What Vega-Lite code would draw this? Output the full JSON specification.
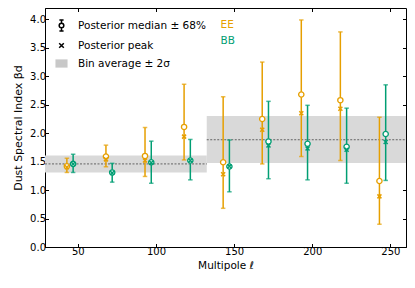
{
  "$schema": "https://vega.github.io/schema/vega-lite/v6.json",
  "width": 361,
  "height": 239,
  "autosize": "none",
  "padding": {"left": 45, "top": 8, "right": 9, "bottom": 41},
  "config": {
    "font": "DejaVu Sans",
    "view": {"stroke": "black", "strokeWidth": 1},
    "axis": {
      "grid": false,
      "domainColor": "black",
      "tickColor": "black",
      "labelColor": "black",
      "titleColor": "black",
      "labelFontSize": 10,
      "titleFontSize": 10.5,
      "titleFontWeight": "normal",
      "tickSize": -3.5,
      "labelPadding": 3
    },
    "legend": {"labelFontSize": 10, "labelFont": "DejaVu Sans", "labelColor": "black"}
  },
  "datasets": {
    "pts": [
      {"l": 43, "spec": "EE", "med": 1.42, "lo": 1.31, "hi": 1.56, "peak": 1.40},
      {"l": 68, "spec": "EE", "med": 1.59, "lo": 1.41, "hi": 1.79, "peak": 1.54},
      {"l": 93, "spec": "EE", "med": 1.60, "lo": 1.24, "hi": 2.10, "peak": 1.52},
      {"l": 118, "spec": "EE", "med": 2.11, "lo": 1.53, "hi": 2.86, "peak": 1.94},
      {"l": 143, "spec": "EE", "med": 1.49, "lo": 0.68, "hi": 2.64, "peak": 1.28},
      {"l": 168, "spec": "EE", "med": 2.25, "lo": 1.46, "hi": 3.25, "peak": 2.06},
      {"l": 193, "spec": "EE", "med": 2.68, "lo": 1.59, "hi": 3.99, "peak": 2.35},
      {"l": 218, "spec": "EE", "med": 2.58, "lo": 1.52, "hi": 3.78, "peak": 2.43},
      {"l": 243, "spec": "EE", "med": 1.16, "lo": 0.40, "hi": 2.28, "peak": 0.89},
      {"l": 47, "spec": "BB", "med": 1.46, "lo": 1.31, "hi": 1.63, "peak": 1.46},
      {"l": 72, "spec": "BB", "med": 1.31, "lo": 1.14, "hi": 1.47, "peak": 1.30},
      {"l": 97, "spec": "BB", "med": 1.49, "lo": 1.12, "hi": 1.86, "peak": 1.48},
      {"l": 122, "spec": "BB", "med": 1.52, "lo": 1.18, "hi": 1.89, "peak": 1.52},
      {"l": 147, "spec": "BB", "med": 1.415, "lo": 0.97, "hi": 1.88, "peak": 1.42},
      {"l": 172, "spec": "BB", "med": 1.855, "lo": 1.20, "hi": 2.56, "peak": 1.785},
      {"l": 197, "spec": "BB", "med": 1.815, "lo": 1.18, "hi": 2.49, "peak": 1.73},
      {"l": 222, "spec": "BB", "med": 1.76, "lo": 1.12, "hi": 2.44, "peak": 1.71},
      {"l": 247, "spec": "BB", "med": 1.985, "lo": 1.17, "hi": 2.85, "peak": 1.845}
    ],
    "bands": [
      {"l0": 29, "l1": 132.5, "lo": 1.31, "hi": 1.61, "mean": 1.46},
      {"l0": 132.5, "l1": 260, "lo": 1.475, "hi": 2.30, "mean": 1.885}
    ],
    "leg": [
      {"k": "Posterior median ± 68%"},
      {"k": "Posterior peak"},
      {"k": "Bin average ± 2σ"}
    ]
  },
  "layer": [
    {
      "data": {"name": "bands"},
      "mark": {"type": "rect", "color": "#d9d9d9", "clip": true},
      "encoding": {
        "x": {"field": "l0", "type": "quantitative", "scale": {"domain": [29, 260], "nice": false, "zero": false},
              "axis": {"orient": "bottom", "values": [50, 100, 150, 200, 250], "title": "Multipole ℓ", "titlePadding": 4}},
        "x2": {"field": "l1"},
        "y": {"field": "lo", "type": "quantitative", "scale": {"domain": [0, 4.2], "nice": false},
              "axis": {"orient": "left", "values": [0, 0.5, 1, 1.5, 2, 2.5, 3, 3.5, 4], "format": ".1f", "title": "Dust Spectral Index βd", "titlePadding": 6, "titleFontSize": 11}},
        "y2": {"field": "hi"}
      }
    },
    {
      "data": {"name": "bands"},
      "mark": {"type": "rule", "color": "#555555", "strokeDash": [2, 1.5], "strokeWidth": 0.9, "clip": true},
      "encoding": {
        "x": {"field": "l0", "type": "quantitative",
              "axis": {"orient": "top", "values": [50, 100, 150, 200, 250], "labels": false, "title": null, "domain": false}},
        "x2": {"field": "l1"},
        "y": {"field": "mean", "type": "quantitative",
              "axis": {"orient": "right", "values": [0, 0.5, 1, 1.5, 2, 2.5, 3, 3.5, 4], "labels": false, "title": null, "domain": false}}
      }
    },
    {
      "data": {"name": "pts"},
      "mark": {"type": "rule", "strokeWidth": 1.5},
      "encoding": {
        "x": {"field": "l", "type": "quantitative", "axis": null},
        "y": {"field": "lo", "type": "quantitative", "axis": null},
        "y2": {"field": "hi"},
        "color": {"field": "spec", "type": "nominal",
                  "scale": {"domain": ["EE", "BB"], "range": ["#E69F00", "#009E73"]},
                  "legend": {"orient": "none", "legendX": 165, "legendY": 12, "title": null,
                             "symbolSize": 0, "symbolOpacity": 0, "symbolStrokeWidth": 0, "labelOffset": 0, "rowPadding": 5, "padding": 0,
                             "labelFontSize": 10.5,
                             "encode": {"labels": {"update": {"fill": {"scale": "color", "field": "value"}}}}}}
      }
    },
    {
      "data": {"name": "pts"},
      "mark": {"type": "tick", "orient": "horizontal", "size": 4.5, "thickness": 1.5},
      "encoding": {
        "x": {"field": "l", "type": "quantitative", "axis": null},
        "y": {"field": "lo", "type": "quantitative", "axis": null},
        "color": {"field": "spec", "type": "nominal", "legend": null}
      }
    },
    {
      "data": {"name": "pts"},
      "mark": {"type": "tick", "orient": "horizontal", "size": 4.5, "thickness": 1.5},
      "encoding": {
        "x": {"field": "l", "type": "quantitative", "axis": null},
        "y": {"field": "hi", "type": "quantitative", "axis": null},
        "color": {"field": "spec", "type": "nominal", "legend": null}
      }
    },
    {
      "data": {"name": "pts"},
      "mark": {"type": "point", "shape": "circle", "filled": false, "fill": "white", "fillOpacity": 1, "opacity": 1, "size": 28, "strokeWidth": 1.3},
      "encoding": {
        "x": {"field": "l", "type": "quantitative", "axis": null},
        "y": {"field": "med", "type": "quantitative", "axis": null},
        "color": {"field": "spec", "type": "nominal", "legend": null}
      }
    },
    {
      "data": {"name": "pts"},
      "mark": {"type": "point", "shape": "M-1,-1L1,1M-1,1L1,-1", "filled": false, "opacity": 1, "size": 16, "strokeWidth": 1.5},
      "encoding": {
        "x": {"field": "l", "type": "quantitative", "axis": null},
        "y": {"field": "peak", "type": "quantitative", "axis": null},
        "color": {"field": "spec", "type": "nominal", "legend": null}
      }
    },
    {
      "data": {"name": "leg"},
      "mark": {"type": "point", "opacity": 0, "strokeWidth": 1.5},
      "encoding": {
        "shape": {"field": "k", "type": "nominal",
                  "scale": {"domain": ["Posterior median ± 68%", "Posterior peak", "Bin average ± 2σ"],
                            "range": ["M0,-1L0,-0.42M0,0.42L0,1M-0.38,-1L0.38,-1M-0.38,1L0.38,1M-0.42,0A0.42,0.42 0 1,0 0.42,0A0.42,0.42 0 1,0 -0.42,0Z",
                                      "M-0.42,-0.42L0.42,0.42M-0.42,0.42L0.42,-0.42",
                                      "M-1.1,-0.75L1.1,-0.75L1.1,0.75L-1.1,0.75Z"]},
                  "legend": {"orient": "none", "legendX": 10, "legendY": 11, "title": null, "symbolSize": 121,
                             "symbolOpacity": 1, "symbolStrokeWidth": 1.5, "labelOffset": 10, "rowPadding": 5, "padding": 0, "labelFontSize": 10.5}},
        "fill": {"field": "k", "type": "nominal",
                 "scale": {"domain": ["Posterior median ± 68%", "Posterior peak", "Bin average ± 2σ"], "range": ["white", "transparent", "#c8c8c8"]}},
        "stroke": {"field": "k", "type": "nominal",
                   "scale": {"domain": ["Posterior median ± 68%", "Posterior peak", "Bin average ± 2σ"], "range": ["black", "black", "transparent"]}}
      }
    }
  ],
  "resolve": {"axis": {"x": "independent", "y": "independent"}}
}
